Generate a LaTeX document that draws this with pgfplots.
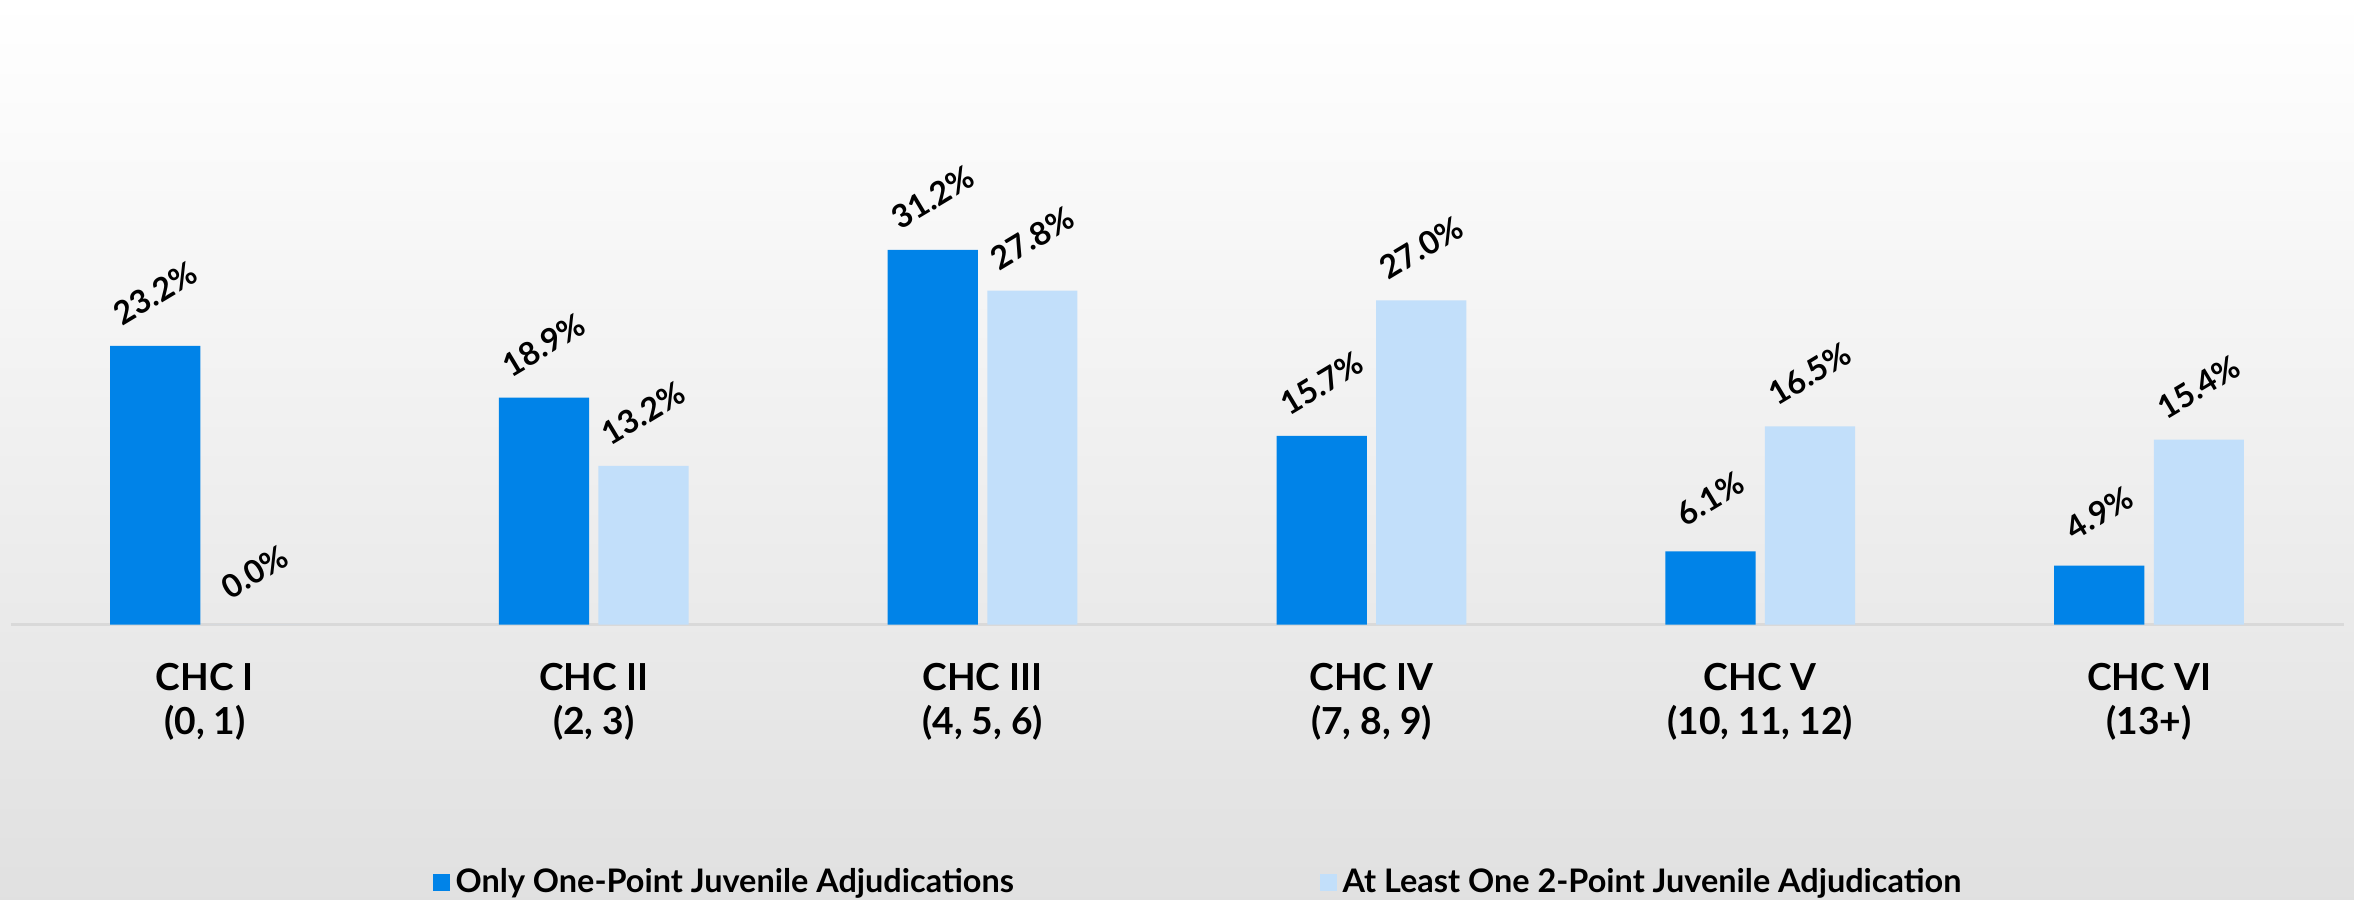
\documentclass[border=0pt]{standalone}
\usepackage{pgfplots}
\pgfplotsset{compat=1.18}
\usepackage{fontspec}
\setmainfont{Lato}
\definecolor{darkb}{RGB}{0,131,232}
\definecolor{lightb}{RGB}{194,223,250}
\definecolor{axisgray}{RGB}{217,217,217}
\begin{document}
\begin{tikzpicture}
\fill[top color=white,bottom color=black!12] (0,0) rectangle (784pt,299.5pt);
\begin{axis}[
  at={(3.5pt,91.5pt)}, anchor=south west,
  scale only axis, width=777pt, height=208pt,
  xmin=-0.5, xmax=5.5, ymin=0, ymax=52,
  axis y line=none, axis x line*=bottom,
  x axis line style={axisgray, line width=1pt, -},
  xtick=data, major tick length=0pt,
  xticklabels={{CHC I\\(0, 1)},{CHC II\\(2, 3)},{CHC III\\(4, 5, 6)},{CHC IV\\(7, 8, 9)},{CHC V\\(10, 11, 12)},{CHC VI\\(13+)}},
  xticklabel style={font=\fontsize{12.4}{14.5}\selectfont\bfseries, align=center, yshift=-9.5pt},
  ybar, bar width=0.232,
  nodes near coords={\pgfmathprintnumber[fixed,fixed zerofill,precision=1,assume math mode=true]{\pgfplotspointmeta}\%},
  every node near coord/.append style={font=\fontsize{10.7}{12}\selectfont\bfseries, anchor=center, yshift=17.5pt, rotate=31},
  legend columns=2,
  legend style={draw=none, fill=none, at={(0.51,-0.413)}, anchor=center, font=\fontsize{10.8}{12}\selectfont\bfseries, /tikz/every even column/.append style={column sep=100pt}},
  legend image code/.code={\fill[#1] (0pt,-2.8pt) rectangle (5.5pt,2.8pt);},
]
\addplot[fill=darkb, draw=none, bar shift=-0.128] coordinates {(0,23.2)(1,18.9)(2,31.2)(3,15.7)(4,6.1)(5,4.9)};
\addplot[fill=lightb, draw=none, bar shift=0.128] coordinates {(0,0.0)(1,13.2)(2,27.8)(3,27.0)(4,16.5)(5,15.4)};
\legend{Only One-Point Juvenile Adjudications, At Least One 2-Point Juvenile Adjudication}
\end{axis}
\pgfresetboundingbox
\useasboundingbox (0,0) rectangle (784pt,299.5pt);
\end{tikzpicture}
\end{document}
